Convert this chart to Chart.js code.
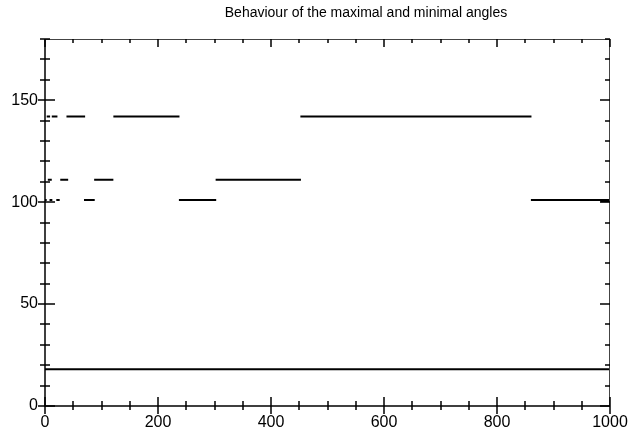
<!DOCTYPE html>
<html>
<head>
<meta charset="utf-8">
<script src="https://cdn.jsdelivr.net/npm/chart.js@4.4.1/dist/chart.umd.min.js"></script>
<style>
  html, body { margin: 0; padding: 0; background: #fff; }
  #chart { display: block; }
</style>
</head>
<body>
<canvas id="chart" width="629" height="432"></canvas>
<script>
// Data: the maximal angle jumps between a few levels, the minimal one stays flat
const maxSegStart = [0, 3, 5, 8, 12, 20, 27, 38, 69, 87, 121, 237, 302, 452, 860, 983];
const maxSegEnd = [3, 9, 12, 13, 22, 26, 41, 71, 88, 121, 238, 303, 453, 861, 1000, 1000];
const maxSegLevel = [101, 142, 111, 101, 142, 101, 111, 142, 101, 111, 142, 101, 111, 142, 101, 100.4];

const minSegStart = [0];
const minSegEnd = [1000];
const minSegLevel = [18];

const xTickLabels = [0, 200, 400, 600, 800, 1000];
const yTickLabels = [0, 50, 100, 150];

const TITLE = "Behaviour of the maximal and minimal angles";
const FONT = "'Liberation Sans', Arial, sans-serif";

// Build point lists: each segment is two points, segments split with a null gap
function buildSegments(starts, ends, levels) {
  const pts = [];
  starts.forEach((s, i) => {
    pts.push({ x: s, y: levels[i] });
    pts.push({ x: ends[i], y: levels[i] });
    pts.push({ x: ends[i], y: null });
  });
  return pts;
}

// Frame with tick marks on all four sides
const framePlugin = {
  id: "frame",
  afterDraw(chart) {
    const { ctx, chartArea: a, scales } = chart;
    const xs = scales.x;
    const ys = scales.y;
    ctx.save();
    ctx.lineCap = "butt";

    // top and right border (lighter)
    ctx.strokeStyle = "#444";
    ctx.lineWidth = 1;
    ctx.beginPath();
    ctx.moveTo(a.left, a.top + 0.5);
    ctx.lineTo(a.right, a.top + 0.5);
    ctx.moveTo(a.right - 0.5, a.top);
    ctx.lineTo(a.right - 0.5, a.bottom);
    ctx.stroke();

    // left and bottom axis
    ctx.strokeStyle = "#000";
    ctx.lineWidth = 1.5;
    ctx.beginPath();
    ctx.moveTo(a.left, a.top);
    ctx.lineTo(a.left, a.bottom);
    ctx.lineTo(a.right, a.bottom);
    ctx.stroke();

    // x ticks
    for (let v = 0; v <= 1000; v += 50) {
      const px = Math.round(xs.getPixelForValue(v));
      const major = v % 200 === 0;
      ctx.lineWidth = 1.5;
      ctx.beginPath();
      ctx.moveTo(px, a.bottom - (major ? 9 : 5));
      ctx.lineTo(px, a.bottom + (major ? 8 : 4));
      ctx.moveTo(px, a.top);
      ctx.lineTo(px, a.top + (major ? 8 : 4));
      ctx.stroke();
    }

    // y ticks
    for (let v = 0; v <= 180; v += 10) {
      const py = Math.round(ys.getPixelForValue(v));
      const major = v % 50 === 0;
      ctx.lineWidth = 1.5;
      ctx.beginPath();
      ctx.moveTo(a.left - (major ? 7 : 5), py);
      ctx.lineTo(a.left + (major ? 10 : 5), py);
      ctx.moveTo(a.right, py);
      ctx.lineTo(a.right - (major ? 10 : 5), py);
      ctx.stroke();
    }

    // title
    ctx.fillStyle = "#000";
    ctx.font = "14px " + FONT;
    ctx.textAlign = "center";
    ctx.textBaseline = "middle";
    ctx.fillText(TITLE, 366, 13);
    ctx.restore();
  },
};

const lineStyle = {
  showLine: true,
  borderColor: "#000",
  borderWidth: 2,
  pointRadius: 0,
  spanGaps: false,
  fill: false,
};

new Chart(document.getElementById("chart").getContext("2d"), {
  type: "scatter",
  data: {
    datasets: [
      { label: "maximal angle", data: buildSegments(maxSegStart, maxSegEnd, maxSegLevel), ...lineStyle },
      { label: "minimal angle", data: buildSegments(minSegStart, minSegEnd, minSegLevel), ...lineStyle },
    ],
  },
  options: {
    responsive: false,
    animation: false,
    devicePixelRatio: 1,
    layout: { padding: { top: 39, right: 19, left: 0, bottom: 0 } },
    plugins: {
      legend: { display: false },
      title: { display: false },
      tooltip: { enabled: false },
    },
    scales: {
      x: {
        type: "linear",
        min: 0,
        max: 1000,
        afterBuildTicks: (s) => { s.ticks = xTickLabels.map((v) => ({ value: v })); },
        afterFit: (s) => {
          s.height = 26;
          s.paddingLeft = 0;
          s.paddingRight = 0;
        },
        grid: { display: false, drawTicks: false },
        border: { display: false },
        ticks: {
          color: "#000",
          font: { family: FONT, size: 16 },
          padding: 7,
          maxRotation: 0,
          autoSkip: false,
          callback: (v) => String(v),
        },
      },
      y: {
        type: "linear",
        min: 0,
        max: 180,
        afterBuildTicks: (s) => { s.ticks = yTickLabels.map((v) => ({ value: v })); },
        afterFit: (s) => {
          s.width = 45;
          s.paddingTop = 0;
          s.paddingBottom = 0;
        },
        grid: { display: false, drawTicks: false },
        border: { display: false },
        ticks: { color: "#000", font: { family: FONT, size: 16 }, padding: 7, autoSkip: false, callback: (v) => String(v) },
      },
    },
  },
  plugins: [framePlugin],
});
</script>
</body>
</html>
